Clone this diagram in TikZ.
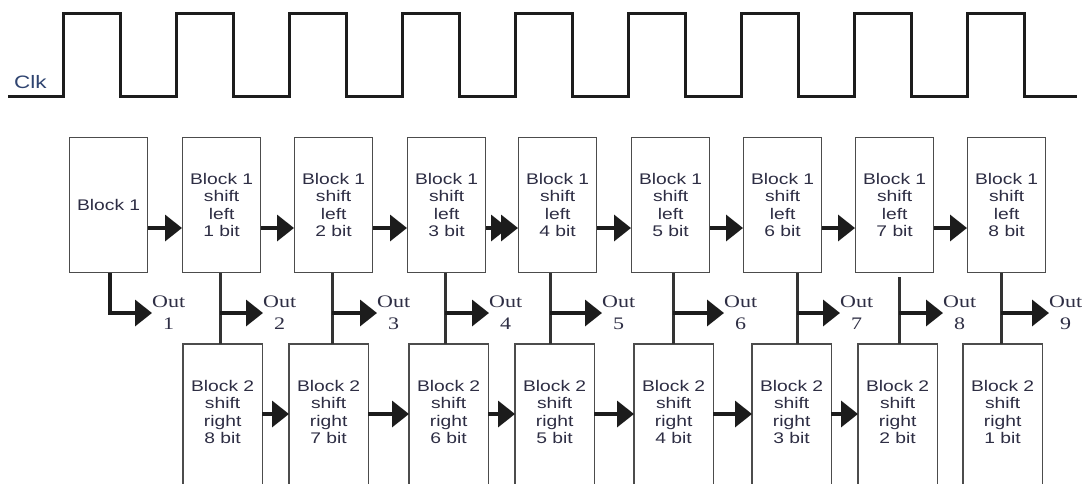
\documentclass[tikz,border=0pt]{standalone}
\usepackage{fontspec}
\usetikzlibrary{arrows.meta,calc}
\newfontfamily\blockfont[FakeStretch=1.25]{Liberation Sans}
\newfontfamily\outfont[FakeStretch=1.25]{Liberation Serif}
\definecolor{ink}{HTML}{2E2E44}
\definecolor{clkink}{HTML}{2F4470}
\definecolor{edge}{HTML}{4C4C4C}
\definecolor{wire}{HTML}{1C1C1C}
\definecolor{tapwire}{HTML}{333333}

\begin{document}
\begin{tikzpicture}[x=1pt,y=-1pt,
  blockbox/.style={draw=edge, line width=1.3pt, fill=white, minimum width=78pt,
    minimum height=135pt, inner sep=0pt, align=center, text=ink,
    font=\blockfont\fontsize{15.4}{17.4}\selectfont, anchor=north west},
  lowbox/.style={blockbox, draw=none},
  openedge/.style={draw=edge, line width=1.3pt},
  outlabel/.style={anchor=west, inner sep=0pt, align=center, text=ink,
    font=\outfont\fontsize{17.6}{22}\selectfont},
  flow/.style={draw=wire, line width=3.5pt, -{Triangle[length=17pt,width=26pt]}},
  tap/.style={draw=tapwire, line width=3pt},
  clock/.style={draw=wire, line width=3pt, line join=miter}]

\useasboundingbox (0,0) rectangle (1088,483);
\clip (0,0) rectangle (1088,483);

% clock waveform
\draw[clock] (8,96.5)
  foreach \r in {63,176,289,402,515,628,741,854,967} {
    -- (\r,96.5) -- (\r,13) -- ({\r+57},13) -- ({\r+57},96.5)
  } -- (1077,96.5);
\node[anchor=base west, inner sep=0pt, text=clkink,
  font=\blockfont\fontsize{18}{20}\selectfont] (clk) at (14,88) {Clk};

% reference heights of the two shift chains and the output taps
\coordinate (upper) at (0,228);
\coordinate (lower) at (0,414);

% upper chain: shift left
\node[blockbox] (t0) at (69,137) {Block 1};
\node[blockbox] (t1) at (182,137) {Block 1\\shift\\left\\1 bit};
\node[blockbox] (t2) at (294,137) {Block 1\\shift\\left\\2 bit};
\node[blockbox] (t3) at (407,137) {Block 1\\shift\\left\\3 bit};
\node[blockbox] (t4) at (518,137) {Block 1\\shift\\left\\4 bit};
\node[blockbox] (t5) at (631,137) {Block 1\\shift\\left\\5 bit};
\node[blockbox] (t6) at (743,137) {Block 1\\shift\\left\\6 bit};
\node[blockbox] (t7) at (855,137) {Block 1\\shift\\left\\7 bit};
\node[blockbox] (t8) at (967,137) {Block 1\\shift\\left\\8 bit};

% lower chain: shift right (open at the bottom)
\node[lowbox] (b1) at (183,344) {Block 2\\shift\\right\\8 bit};
\node[lowbox] (b2) at (289,344) {Block 2\\shift\\right\\7 bit};
\node[lowbox] (b3) at (409,344) {Block 2\\shift\\right\\6 bit};
\node[lowbox] (b4) at (515,344) {Block 2\\shift\\right\\5 bit};
\node[lowbox] (b5) at (634,344) {Block 2\\shift\\right\\4 bit};
\node[lowbox] (b6) at (752,344) {Block 2\\shift\\right\\3 bit};
\node[lowbox] (b7) at (858,344) {Block 2\\shift\\right\\2 bit};
\node[lowbox] (b8) at (963,344) {Block 2\\shift\\right\\1 bit};
\foreach \b in {b1,b2,b3,b4,b5,b6,b7,b8}
  \draw[openedge] ([yshift=-20pt]\b.south west) -- (\b.north west)
    -- (\b.north east) -- ([yshift=-20pt]\b.south east);

% output labels
\node[outlabel] (o1) at (152,313) {Out\\1};
\node[outlabel] (o2) at (263,313) {Out\\2};
\node[outlabel] (o3) at (377,313) {Out\\3};
\node[outlabel] (o4) at (489,313) {Out\\4};
\node[outlabel] (o5) at (602,313) {Out\\5};
\node[outlabel] (o6) at (724,313) {Out\\6};
\node[outlabel] (o7) at (840,313) {Out\\7};
\node[outlabel] (o8) at (943,313) {Out\\8};
\node[outlabel] (o9) at (1049,313) {Out\\9};

% tap points on the vertical links
\coordinate (v1) at (220,313);
\coordinate (v2) at (332,313);
\coordinate (v3) at (445,313);
\coordinate (v4) at (550,313);
\coordinate (v5) at (673,313);
\coordinate (v6) at (797,313);
\coordinate (v7) at (899,313);
\coordinate (v8) at (1001,313);

% vertical links between the chains
\foreach \k in {1,...,6,8}
  \draw[tap] (v\k |- t\k.south) -- (v\k |- b\k.north);
\draw[tap] ($(v7 |- t7.south)+(0,4)$) -- (v7 |- b7.north);

% taps to the outputs
\draw[flow] ([xshift=1.5pt]t0.south) |- (o1.west);
\draw[flow] (v1) -- (o2.west);
\draw[flow] (v2) -- (o3.west);
\draw[flow] (v3) -- (o4.west);
\draw[flow] (v4) -- (o5.west);
\draw[flow] (v5) -- (o6.west);
\draw[flow] (v6) -- (o7.west);
\draw[flow] (v7) -- (o8.west);
\draw[flow] (v8) -- (o9.west);

% upper chain arrows
\draw[flow] (t0.east |- upper) -- (t1.west |- upper);
\draw[flow] (t1.east |- upper) -- (t2.west |- upper);
\draw[flow] (t2.east |- upper) -- (t3.west |- upper);
\draw[flow] (t3.east |- upper) -- ($(t4.west |- upper)+(-10,0)$);
\draw[flow] (t3.east |- upper) -- (t4.west |- upper);
\draw[flow] (t4.east |- upper) -- (t5.west |- upper);
\draw[flow] (t5.east |- upper) -- (t6.west |- upper);
\draw[flow] (t6.east |- upper) -- (t7.west |- upper);
\draw[flow] (t7.east |- upper) -- (t8.west |- upper);

% lower chain arrows
\draw[flow] (b1.east |- lower) -- (b2.west |- lower);
\draw[flow] (b2.east |- lower) -- (b3.west |- lower);
\draw[flow] (b3.east |- lower) -- (b4.west |- lower);
\draw[flow] (b4.east |- lower) -- (b5.west |- lower);
\draw[flow] (b5.east |- lower) -- (b6.west |- lower);
\draw[flow] (b6.east |- lower) -- (b7.west |- lower);
\end{tikzpicture}
\end{document}
